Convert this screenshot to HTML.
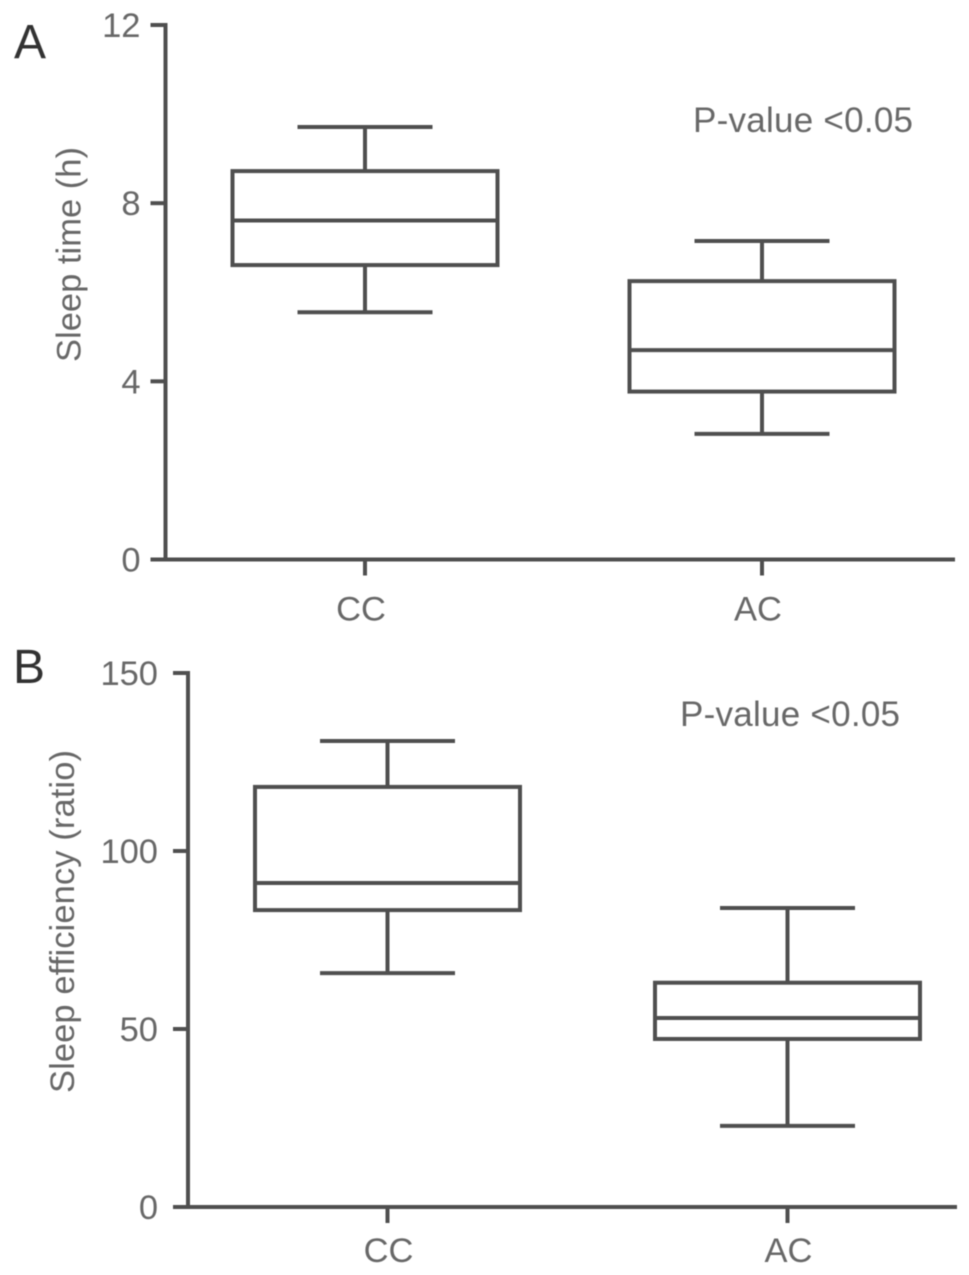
<!DOCTYPE html>
<html lang="en">
<head>
<meta charset="utf-8">
<title>Sleep time and sleep efficiency box plots</title>
<style>
  html, body { margin: 0; padding: 0; background: #fff; }
  svg { display: block; }
  text { font-family: "Liberation Sans", sans-serif; fill: #686868; }
</style>
</head>
<body>
<svg id="figure" xmlns="http://www.w3.org/2000/svg" width="969" height="1275" viewBox="0 0 969 1275">
  <rect x="0" y="0" width="969" height="1275" fill="#fff"/>
  <defs>
    <filter id="soft" x="-5%" y="-5%" width="110%" height="110%"><feGaussianBlur stdDeviation="0.45"/></filter>
  </defs>
  <g id="root" filter="url(#soft)">
    <text x="14" y="58" font-size="48" style="fill:#333">A</text>
    <text x="13" y="683" font-size="48" style="fill:#333">B</text>
    <text transform="translate(80.5 362) rotate(-90)" font-size="34.5" textLength="215" lengthAdjust="spacing">Sleep time (h)</text>
    <text transform="translate(74 1093) rotate(-90)" font-size="34.5" textLength="343" lengthAdjust="spacing">Sleep efficiency (ratio)</text>
    <text x="693" y="132" font-size="35" textLength="220" lengthAdjust="spacing">P-value &lt;0.05</text>
    <text x="680" y="726" font-size="35" textLength="220" lengthAdjust="spacing">P-value &lt;0.05</text>
  </g>
</svg>
<script>
// Chart data: [lower whisker, first quartile, median, third quartile, upper whisker]
var categories = ['CC', 'AC'];
var sleepTimeCC = [5.55, 6.61, 7.61, 8.72, 9.71];
var sleepTimeAC = [2.82, 3.77, 4.70, 6.25, 7.15];
var sleepEfficiencyCC = [65.7, 83.4, 91.0, 118.0, 130.9];
var sleepEfficiencyAC = [22.8, 47.2, 53.1, 63.0, 84.0];
var sleepTimeTicks = [0, 4, 8, 12];
var sleepEfficiencyTicks = [0, 50, 100, 150];

var SVG_NS = 'http://www.w3.org/2000/svg';
var root = document.getElementById('root');
var INK = '#4f4f4f';

function drawLine(parent, name, x1, y1, x2, y2, width) {
  var el = document.createElementNS(SVG_NS, 'line');
  
  
  el.setAttribute('x1', x1);
  el.setAttribute('y1', y1);
  el.setAttribute('x2', x2);
  el.setAttribute('y2', y2);
  el.setAttribute('stroke', INK);
  el.setAttribute('stroke-width', width);
  parent.appendChild(el);
  return el;
}

function drawText(parent, name, x, y, anchor, content) {
  var el = document.createElementNS(SVG_NS, 'text');
  
  
  el.setAttribute('x', x);
  el.setAttribute('y', y);
  el.setAttribute('text-anchor', anchor);
  el.setAttribute('font-size', 34.5);
  el.textContent = content;
  parent.appendChild(el);
  return el;
}

function drawPanel(panel, layout, ticks, seriesList) {
  var group = document.createElementNS(SVG_NS, 'g');
  
  
  root.appendChild(group);

  var maxTick = Math.max.apply(null, ticks);
  function yScale(v) {
    return layout.bottom - (v / maxTick) * (layout.bottom - layout.top);
  }
  function xScale(i) {
    return layout.firstCenter + i * layout.step;
  }

  // axes
  drawLine(group, panel + '-y-axis', layout.left, layout.top - 2, layout.left, layout.bottom, 4);
  drawLine(group, panel + '-x-axis', layout.left - 15, layout.bottom, layout.right, layout.bottom, 4);

  ticks.forEach(function (t) {
    var y = yScale(t);
    drawLine(group, panel + '-y-tick-' + t, layout.left - 15, y, layout.left, y, 4);
    drawText(group, panel + '-y-tick-label-' + t, layout.left - layout.tickGap, y + 12, 'end', String(t));
  });

  categories.forEach(function (c, i) {
    var x = xScale(i);
    drawLine(group, panel + '-x-tick-' + c, x, layout.bottom, x, layout.bottom + 16, 4);
    drawText(group, panel + '-x-tick-label-' + c, x + layout.labelShift, layout.bottom + layout.labelDrop, 'middle', c);

    var s = seriesList[i];
    var boxHalf = 132.5;
    var capHalf = 67.5;
    var box = document.createElementNS(SVG_NS, 'rect');
    
    
    box.setAttribute('x', x - boxHalf);
    box.setAttribute('y', yScale(s[3]));
    box.setAttribute('width', boxHalf * 2);
    box.setAttribute('height', yScale(s[1]) - yScale(s[3]));
    box.setAttribute('fill', 'none');
    box.setAttribute('stroke', INK);
    box.setAttribute('stroke-width', 4);
    group.appendChild(box);
    drawLine(group, panel + '-median-' + c, x - boxHalf, yScale(s[2]), x + boxHalf, yScale(s[2]), 4);
    drawLine(group, panel + '-upper-whisker-' + c, x, yScale(s[3]), x, yScale(s[4]), 4);
    drawLine(group, panel + '-upper-cap-' + c, x - capHalf, yScale(s[4]), x + capHalf, yScale(s[4]), 4);
    drawLine(group, panel + '-lower-whisker-' + c, x, yScale(s[1]), x, yScale(s[0]), 4);
    drawLine(group, panel + '-lower-cap-' + c, x - capHalf, yScale(s[0]), x + capHalf, yScale(s[0]), 4);
  });
}

drawPanel('panel-a',
  { left: 165.5, right: 955, top: 25, bottom: 559.5, firstCenter: 365, step: 397, tickGap: 25, labelShift: -4, labelDrop: 61 },
  sleepTimeTicks, [sleepTimeCC, sleepTimeAC]);
drawPanel('panel-b',
  { left: 188, right: 957, top: 673, bottom: 1207, firstCenter: 387.5, step: 400, tickGap: 30, labelShift: 1, labelDrop: 55 },
  sleepEfficiencyTicks, [sleepEfficiencyCC, sleepEfficiencyAC]);
</script>
</body>
</html>
